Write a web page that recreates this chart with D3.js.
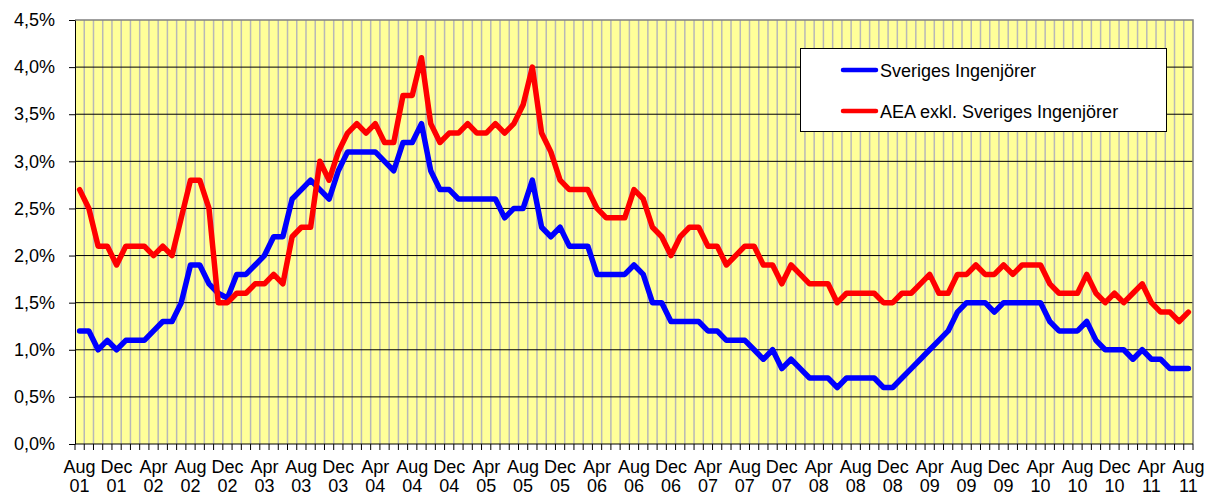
<!DOCTYPE html>
<html>
<head>
<meta charset="utf-8">
<script src="https://cdn.jsdelivr.net/npm/d3@7"></script>
<style>
  body { margin: 0; background: #fff; }
  svg { display: block; font-family: "Liberation Sans", Arial, sans-serif; }
</style>
</head>
<body>
<div id="chart"></div>
<script>
// monthly values Aug 01 - Aug 11, in percent

const seriesNames = ["Sveriges Ingenjörer", "AEA exkl. Sveriges Ingenjörer"];
const seriesColors = ["#0000ff", "#ff0000"];

const sverigesIng = [
  1.2, 1.2, 1.0, 1.1, 1.0, 1.1, 1.1, 1.1, 1.2, 1.3,
  1.3, 1.5, 1.9, 1.9, 1.7, 1.6, 1.55, 1.8, 1.8, 1.9,
  2.0, 2.2, 2.2, 2.6, 2.7, 2.8, 2.7, 2.6, 2.9, 3.1,
  3.1, 3.1, 3.1, 3.0, 2.9, 3.2, 3.2, 3.4, 2.9, 2.7,
  2.7, 2.6, 2.6, 2.6, 2.6, 2.6, 2.4, 2.5, 2.5, 2.8,
  2.3, 2.2, 2.3, 2.1, 2.1, 2.1, 1.8, 1.8, 1.8, 1.8,
  1.9, 1.8, 1.5, 1.5, 1.3, 1.3, 1.3, 1.3, 1.2, 1.2,
  1.1, 1.1, 1.1, 1.0, 0.9, 1.0, 0.8, 0.9, 0.8, 0.7,
  0.7, 0.7, 0.6, 0.7, 0.7, 0.7, 0.7, 0.6, 0.6, 0.7,
  0.8, 0.9, 1.0, 1.1, 1.2, 1.4, 1.5, 1.5, 1.5, 1.4,
  1.5, 1.5, 1.5, 1.5, 1.5, 1.3, 1.2, 1.2, 1.2, 1.3,
  1.1, 1.0, 1.0, 1.0, 0.9, 1.0, 0.9, 0.9, 0.8, 0.8, 0.8
];

const aeaExkl = [
  2.7, 2.5, 2.1, 2.1, 1.9, 2.1, 2.1, 2.1, 2.0, 2.1,
  2.0, 2.4, 2.8, 2.8, 2.5, 1.5, 1.5, 1.6, 1.6, 1.7,
  1.7, 1.8, 1.7, 2.2, 2.3, 2.3, 3.0, 2.8, 3.1, 3.3,
  3.4, 3.3, 3.4, 3.2, 3.2, 3.7, 3.7, 4.1, 3.4, 3.2,
  3.3, 3.3, 3.4, 3.3, 3.3, 3.4, 3.3, 3.4, 3.6, 4.0,
  3.3, 3.1, 2.8, 2.7, 2.7, 2.7, 2.5, 2.4, 2.4, 2.4,
  2.7, 2.6, 2.3, 2.2, 2.0, 2.2, 2.3, 2.3, 2.1, 2.1,
  1.9, 2.0, 2.1, 2.1, 1.9, 1.9, 1.7, 1.9, 1.8, 1.7,
  1.7, 1.7, 1.5, 1.6, 1.6, 1.6, 1.6, 1.5, 1.5, 1.6,
  1.6, 1.7, 1.8, 1.6, 1.6, 1.8, 1.8, 1.9, 1.8, 1.8,
  1.9, 1.8, 1.9, 1.9, 1.9, 1.7, 1.6, 1.6, 1.6, 1.8,
  1.6, 1.5, 1.6, 1.5, 1.6, 1.7, 1.5, 1.4, 1.4, 1.3, 1.4
];

// one label every fourth month, starting at the first category
const tickLabels = [
  "Aug 01", "Dec 01", "Apr 02", "Aug 02", "Dec 02", "Apr 03", "Aug 03", "Dec 03",
  "Apr 04", "Aug 04", "Dec 04", "Apr 05", "Aug 05", "Dec 05", "Apr 06", "Aug 06",
  "Dec 06", "Apr 07", "Aug 07", "Dec 07", "Apr 08", "Aug 08", "Dec 08", "Apr 09",
  "Aug 09", "Dec 09", "Apr 10", "Aug 10", "Dec 10", "Apr 11", "Aug 11"
];

const yTicks = [0, 0.5, 1, 1.5, 2, 2.5, 3, 3.5, 4, 4.5];

const categories = d3.range(sverigesIng.length);

const WIDTH = 1207;
const HEIGHT = 495;
const margin = {top: 20, right: 14, bottom: 51, left: 75};

const svg = d3.select("#chart")
  .append("svg")
    .attr("width", WIDTH)
    .attr("height", HEIGHT);

const x = d3.scaleBand()
  .domain(categories)
  .range([margin.left, WIDTH - margin.right])
  .padding(0);

const y = d3.scaleLinear()
  .domain([0, 4.5])
  .range([HEIGHT - margin.bottom, margin.top]);

const cx = d => x(d) + x.bandwidth() / 2;
const x0 = margin.left, x1 = WIDTH - margin.right;
const yTop = y(4.5), yBot = y(0);

// plot background
svg.append("rect")
  .attr("x", x0).attr("y", yTop)
  .attr("width", x1 - x0).attr("height", yBot - yTop)
  .attr("fill", "#ffff99");

// vertical grid (category boundaries)
const bounds = categories.map(d => x(d)).concat([x1]);
svg.append("g")
  .selectAll("line")
  .data(bounds.slice(1, -1))
  .join("line")
    .attr("x1", d => d).attr("x2", d => d)
    .attr("y1", yTop).attr("y2", yBot)
    .attr("stroke", "#b8b8b8")
    .attr("stroke-width", 1.5);

// horizontal grid
svg.append("g")
  .selectAll("line")
  .data(yTicks.slice(1, -1))
  .join("line")
    .attr("x1", x0).attr("x2", x1)
    .attr("y1", d => y(d)).attr("y2", d => y(d))
    .attr("stroke", "#000")
    .attr("stroke-width", 1);

// top and right border
svg.append("path")
  .attr("d", `M${x0},${yTop}H${x1}V${yBot}`)
  .attr("fill", "none")
  .attr("stroke", "#808080")
  .attr("stroke-width", 1.5);

// y axis
const yAxis = svg.append("g")
  .attr("transform", `translate(${x0},0)`)
  .call(d3.axisLeft(y)
    .tickValues(yTicks)
    .tickSize(6)
    .tickSizeOuter(0)
    .tickPadding(14)
    .tickFormat(d => d.toFixed(1).replace(".", ",") + "%"));
yAxis.selectAll("text")
  .attr("font-size", 18)
  .attr("fill", "#000");
yAxis.selectAll("line, path").attr("stroke", "#000");

// x axis: ticks at category boundaries
svg.append("line")
  .attr("x1", x0).attr("x2", x1)
  .attr("y1", yBot).attr("y2", yBot)
  .attr("stroke", "#000");
svg.append("g")
  .selectAll("line")
  .data(bounds)
  .join("line")
    .attr("x1", d => d).attr("x2", d => d)
    .attr("y1", yBot).attr("y2", yBot + 6)
    .attr("stroke", "#000");

const labels = svg.append("g")
  .selectAll("text")
  .data(tickLabels)
  .join("text")
    .attr("x", (d, i) => cx(categories[i * 4]))
    .attr("text-anchor", "middle")
    .attr("font-size", 18)
    .attr("fill", "#000");
labels.append("tspan").attr("y", 473).text(d => d.split(" ")[0]);
labels.append("tspan")
  .attr("x", (d, i) => cx(categories[i * 4]))
  .attr("y", 492).text(d => d.split(" ")[1]);

// lines
const line = d3.line()
  .x((d, i) => cx(categories[i]))
  .y(d => y(d));

[sverigesIng, aeaExkl].forEach((s, k) => {
  svg.append("path")
    .datum(s)
    .attr("d", line)
    .attr("fill", "none")
    .attr("stroke", seriesColors[k])
    .attr("stroke-width", 5.5)
    .attr("stroke-linejoin", "round")
    .attr("stroke-linecap", "round");
});

// legend
const legend = svg.append("g");
legend.append("rect")
  .attr("x", 800.5).attr("y", 48.5)
  .attr("width", 366).attr("height", 83)
  .attr("fill", "#fff")
  .attr("stroke", "#000")
  .attr("stroke-width", 1);

seriesNames.forEach((name, k) => {
  const ly = 70 + k * 41;
  legend.append("line")
    .attr("x1", 843).attr("x2", 876)
    .attr("y1", ly).attr("y2", ly)
    .attr("stroke", seriesColors[k])
    .attr("stroke-width", 4.5)
    .attr("stroke-linecap", "round");
  legend.append("text")
    .attr("x", 880).attr("y", ly + 6.5)
    .attr("font-size", 18)
    .attr("fill", "#000")
    .text(name);
});
</script>
</body>
</html>
